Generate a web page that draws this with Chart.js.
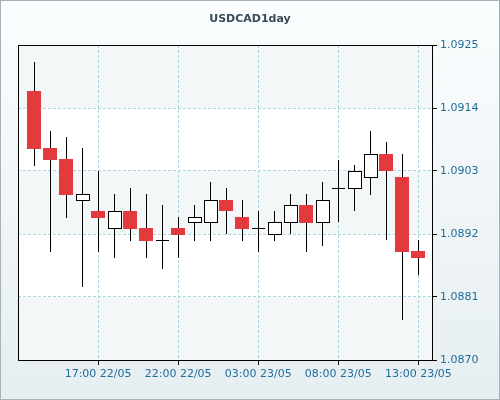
<!DOCTYPE html>
<html lang="en">
<head>
    <meta charset="UTF-8">
    <title>USDCAD1day</title>
    <script src="https://cdn.jsdelivr.net/npm/chart.js@4.4.0/dist/chart.umd.min.js"></script>
    <style>
        html, body { margin: 0; padding: 0; }
        #wrap { width: 500px; height: 400px; }
    </style>
</head>
<body>
    <div id="wrap"><canvas id="myChart"></canvas></div>
    <script>
        // hourly candles, 13:00 22/05 .. 13:00 23/05
        var opens  = [1.09170, 1.09070, 1.09051, 1.08979, 1.08960, 1.08930, 1.08960, 1.08930, 1.08910, 1.08930, 1.08941, 1.08941, 1.08979,
                      1.08950, 1.08930, 1.08920, 1.08941, 1.08971, 1.08941, 1.09000, 1.09000, 1.09020, 1.09060, 1.09020, 1.08890];
        var closes = [1.09068, 1.09049, 1.08988, 1.08990, 1.08948, 1.08960, 1.08929, 1.08908, 1.08910, 1.08918, 1.08950, 1.08979, 1.08960,
                      1.08929, 1.08930, 1.08941, 1.08971, 1.08939, 1.08979, 1.09000, 1.09030, 1.09060, 1.09030, 1.08889, 1.08878];
        var highs  = [1.09220, 1.09100, 1.09089, 1.09070, 1.09030, 1.08990, 1.09000, 1.08990, 1.08971, 1.08950, 1.08971, 1.09011, 1.09000,
                      1.08979, 1.08960, 1.08960, 1.08990, 1.08990, 1.09011, 1.09049, 1.09040, 1.09100, 1.09081, 1.09060, 1.08910];
        var lows   = [1.09039, 1.08889, 1.08948, 1.08827, 1.08889, 1.08878, 1.08908, 1.08878, 1.08859, 1.08878, 1.08908, 1.08908, 1.08920,
                      1.08908, 1.08889, 1.08908, 1.08920, 1.08889, 1.08899, 1.08941, 1.08960, 1.08988, 1.08910, 1.08770, 1.08848];
        var tickIdx = [4, 9, 14, 19, 24];
        var tickLabels = ['17:00 22/05', '22:00 22/05', '03:00 23/05', '08:00 23/05', '13:00 23/05'];
        var yTicks = [1.0870, 1.0881, 1.0892, 1.0903, 1.0914, 1.0925];

        var candles = {
            id: 'candles',
            beforeDraw(chart) {
                var c = chart.ctx, a = chart.chartArea, y = chart.scales.y;
                var g = c.createLinearGradient(0, 0, 0, chart.height);
                g.addColorStop(0, '#fbfdfe');
                g.addColorStop(1, '#e6eef1');
                c.fillStyle = g;
                c.fillRect(0, 0, chart.width, chart.height);
                c.strokeStyle = '#a7b1b6';
                c.strokeRect(0.5, 0.5, chart.width - 1, chart.height - 1);
                // alternating bands
                for (var i = 0; i < yTicks.length - 1; i++) {
                    var t = y.getPixelForValue(yTicks[i + 1]), b = y.getPixelForValue(yTicks[i]);
                    c.fillStyle = (i % 2 === 0) ? '#f3f7f8' : '#ffffff';
                    c.fillRect(a.left, t, a.right - a.left, b - t);
                }
                c.fillStyle = '#3b4a57';
                c.font = 'bold 11px "DejaVu Sans"';
                c.textAlign = 'center';
                c.fillText('USDCAD1day', chart.width / 2, 22);
            },
            afterDatasetsDraw(chart) {
                var c = chart.ctx, x = chart.scales.x, y = chart.scales.y, a = chart.chartArea;
                c.save();
                for (var i = 0; i < opens.length; i++) {
                    var px = Math.round(x.getPixelForValue(i)) + 0.5;
                    c.strokeStyle = '#000';
                    c.lineWidth = 1;
                    c.beginPath();
                    c.moveTo(px, Math.round(y.getPixelForValue(highs[i])));
                    c.lineTo(px, Math.round(y.getPixelForValue(lows[i])));
                    c.stroke();
                    var yo = Math.round(y.getPixelForValue(opens[i])), yc = Math.round(y.getPixelForValue(closes[i]));
                    var top = Math.min(yo, yc), h = Math.abs(yo - yc);
                    if (closes[i] < opens[i]) {
                        c.fillStyle = '#e33b3d';
                        c.fillRect(px - 7.5, top, 14, h);
                    } else if (h === 0) {
                        c.beginPath();
                        c.moveTo(px - 6.5, top + 0.5);
                        c.lineTo(px + 6.5, top + 0.5);
                        c.stroke();
                    } else {
                        c.fillStyle = '#fff';
                        c.fillRect(px - 6, top + 0.5, 13, h);
                        c.strokeRect(px - 6, top + 0.5, 13, h);
                    }
                }
                c.strokeStyle = '#000';
                c.strokeRect(a.left + 0.5, a.top + 0.5, a.right - a.left, a.bottom - a.top);
                c.restore();
            }
        };

        var ctx = document.getElementById('myChart').getContext('2d');
        new Chart(ctx, {
            type: 'scatter',
            data: {
                datasets: [{
                    data: closes.map((v, i) => ({ x: i, y: v })),
                    pointRadius: 0,
                    showLine: false
                }]
            },
            options: {
                responsive: true,
                maintainAspectRatio: false,
                animation: false,
                layout: { padding: { left: 18, top: 45, right: 0, bottom: 0 } },
                plugins: { legend: { display: false }, tooltip: { enabled: false } },
                scales: {
                    x: {
                        type: 'linear',
                        min: -1,
                        max: 24.85,
                        afterBuildTicks: s => { s.ticks = tickIdx.map(v => ({ value: v })); },
                        afterFit: s => { s.height = 40; },
                        ticks: {
                            autoSkip: false, maxRotation: 0,
                            color: '#1f6d98',
                            font: { family: 'DejaVu Sans', size: 11 },
                            callback: v => tickLabels[tickIdx.indexOf(v)]
                        },
                        grid: { color: '#a9d6e0', tickColor: '#000', tickLength: 5 },
                        border: { color: '#000', dash: [3, 2] }
                    },
                    y: {
                        position: 'right',
                        min: 1.0870,
                        max: 1.0925,
                        afterBuildTicks: s => { s.ticks = yTicks.map(v => ({ value: v })); },
                        afterFit: s => { s.width = 68; },
                        ticks: {
                            color: '#1f6d98',
                            font: { family: 'DejaVu Sans', size: 11 },
                            padding: 3,
                            callback: v => v.toFixed(4)
                        },
                        grid: { color: '#a9d6e0', tickColor: '#000', tickLength: 5 },
                        border: { color: '#000', dash: [3, 2] }
                    }
                }
            },
            plugins: [candles]
        });
    </script>
</body>
</html>
